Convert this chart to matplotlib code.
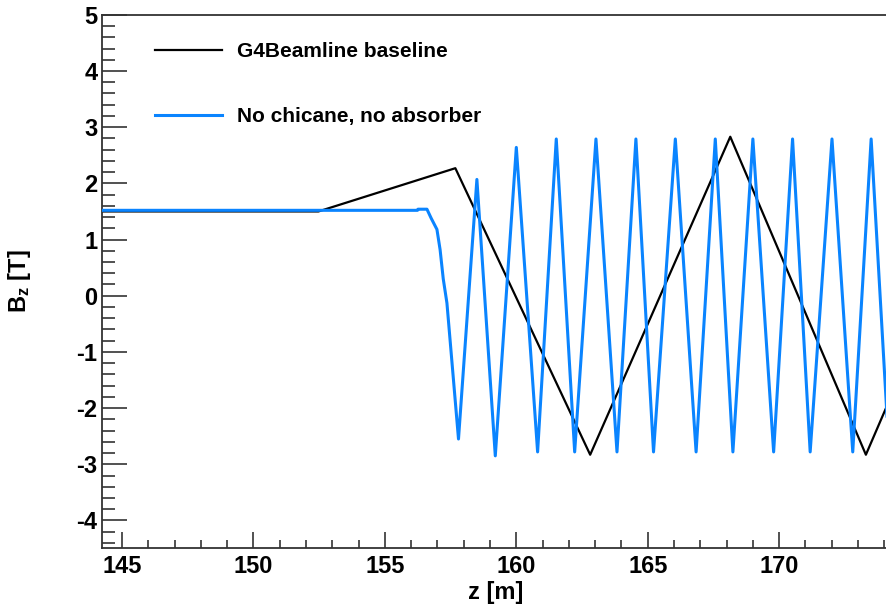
import matplotlib

matplotlib.use("Agg")

import matplotlib.pyplot as plt
from matplotlib.ticker import MultipleLocator

# G4Beamline baseline (black): piecewise-linear Bz(z)
BASE_Z = [144.22, 152.47, 157.68, 162.81, 168.14, 173.30, 174.12]
BASE_B = [1.50, 1.50, 2.27, -2.83, 2.83, -2.83, -1.94]

# No chicane, no absorber (blue)
NOCH_Z = [144.22, 156.24, 156.26, 156.60, 156.76, 156.98, 157.10, 157.22, 157.36,
          157.80, 158.50, 159.20, 160.00, 160.81, 161.52, 162.22, 163.03, 163.83,
          164.55, 165.22, 166.05, 166.84, 167.57, 168.24, 169.00, 169.79, 170.51,
          171.18, 172.01, 172.80, 173.50, 174.11]
NOCH_B = [1.52, 1.52, 1.54, 1.54, 1.38, 1.18, 0.82, 0.30, -0.13,
          -2.55, 2.07, -2.85, 2.64, -2.78, 2.79, -2.78, 2.79, -2.78,
          2.79, -2.78, 2.79, -2.78, 2.79, -2.78, 2.79, -2.78, 2.79,
          -2.78, 2.79, -2.78, 2.79, -2.20]

LABELS = ["G4Beamline baseline", "No chicane, no absorber"]
X_TICKS = [145, 150, 155, 160, 165, 170]
Y_TICKS = [-4, -3, -2, -1, 0, 1, 2, 3, 4, 5]

BLUE = "#0a84ff"
FRAME = "#333333"

plt.rcParams.update({
    "font.family": ["Liberation Sans", "DejaVu Sans"],
    "font.weight": "bold",
    "mathtext.fontset": "custom",
    "mathtext.rm": "Liberation Sans:bold",
    "mathtext.it": "Liberation Sans:bold",
    "mathtext.bf": "Liberation Sans:bold",
})

fig = plt.figure(figsize=(8.87, 6.07), dpi=100)
ax = fig.add_axes([0.1145, 0.0972, 0.886, 0.8784])

ax.plot(BASE_Z, BASE_B, color="black", lw=1.6, label=LABELS[0], zorder=2)
ax.plot(NOCH_Z, NOCH_B, color=BLUE, lw=2.2, label=LABELS[1], zorder=3)

ax.set_xlim(144.22, 174.12)
ax.set_ylim(-4.49, 5.0)

ax.set_xticks(X_TICKS)
ax.set_yticks(Y_TICKS)
ax.set_yticklabels([str(v) for v in Y_TICKS])
ax.xaxis.set_minor_locator(MultipleLocator(1))
ax.yaxis.set_minor_locator(MultipleLocator(0.2))
ax.tick_params(axis="both", which="both", direction="in", color=FRAME, width=1.2,
               labelsize=17)
ax.tick_params(axis="y", which="major", length=18, pad=3)
ax.tick_params(axis="y", which="minor", length=9)
ax.tick_params(axis="x", which="major", length=11.5, pad=5)
ax.tick_params(axis="x", which="minor", length=5.8)
for lab in ax.get_xticklabels() + ax.get_yticklabels():
    lab.set_fontweight("bold")

ax.spines["right"].set_visible(False)
for side in ["left", "bottom", "top"]:
    ax.spines[side].set_color(FRAME)
    ax.spines[side].set_linewidth(1.3)

fig.text(495.6 / 887, 1 - 592 / 607, "z [m]", ha="center", va="center",
         fontsize=17, fontweight="bold")
fig.text(20 / 887, 1 - 281 / 607, r"B$_{\mathrm{z}}$ [T]", ha="center", va="center",
         rotation=90, fontsize=17, fontweight="bold")

leg = ax.legend(loc="upper left", bbox_to_anchor=(155 / 887, 1 - 42 / 607),
                bbox_transform=fig.transFigure, frameon=False, fontsize=15,
                handlelength=3.2, handletextpad=0.72, labelspacing=2.2,
                borderpad=0, borderaxespad=0)
for t in leg.get_texts():
    t.set_fontweight("bold")

fig.savefig("out.png", dpi=100)
